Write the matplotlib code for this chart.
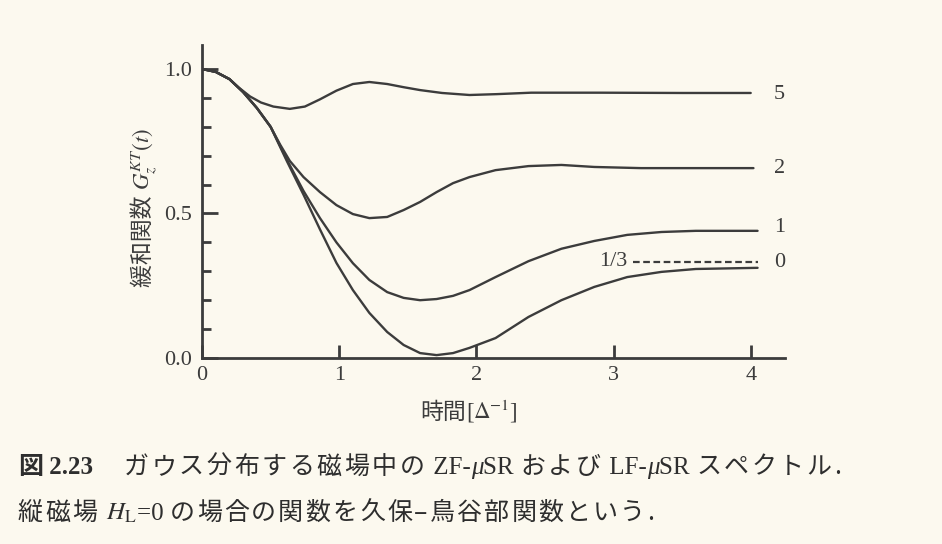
import matplotlib
matplotlib.use("Agg")
import matplotlib.pyplot as plt
from matplotlib.ticker import MultipleLocator, FixedLocator

# ---- data ----
t_5 = [0.0, 0.10, 0.20, 0.27, 0.35, 0.43, 0.52, 0.64, 0.75, 0.86, 0.98, 1.10, 1.22, 1.35, 1.47, 1.59, 1.75, 1.95, 2.15, 2.40, 2.90, 3.50, 4.00]
g_5 = [1.0, 0.99, 0.965, 0.935, 0.905, 0.884, 0.870, 0.862, 0.870, 0.895, 0.925, 0.948, 0.955, 0.948, 0.937, 0.927, 0.917, 0.91, 0.913, 0.918, 0.918, 0.917, 0.917]

t_2 = [0.0, 0.10, 0.20, 0.30, 0.40, 0.50, 0.57, 0.64, 0.74, 0.86, 0.98, 1.10, 1.22, 1.35, 1.47, 1.59, 1.71, 1.83, 1.95, 2.14, 2.38, 2.62, 2.86, 3.20, 4.02]
g_2 = [1.0, 0.99, 0.965, 0.92, 0.865, 0.80, 0.738, 0.682, 0.626, 0.574, 0.529, 0.498, 0.484, 0.488, 0.512, 0.54, 0.574, 0.605, 0.626, 0.65, 0.664, 0.668, 0.661, 0.657, 0.657]

t_1 = [0.0, 0.10, 0.20, 0.30, 0.40, 0.50, 0.62, 0.74, 0.86, 0.98, 1.10, 1.22, 1.35, 1.47, 1.59, 1.71, 1.83, 1.95, 2.14, 2.38, 2.62, 2.86, 3.10, 3.35, 3.60, 4.05]
g_1 = [1.0, 0.99, 0.965, 0.92, 0.865, 0.80, 0.685, 0.578, 0.484, 0.40, 0.328, 0.27, 0.228, 0.208, 0.20, 0.204, 0.215, 0.235, 0.28, 0.335, 0.378, 0.405, 0.426, 0.436, 0.44, 0.44]

t_0 = [0.0, 0.10, 0.20, 0.30, 0.40, 0.50, 0.62, 0.74, 0.86, 0.98, 1.10, 1.22, 1.35, 1.47, 1.59, 1.71, 1.83, 1.95, 2.14, 2.38, 2.62, 2.86, 3.10, 3.35, 3.60, 4.05]
g_0 = [1.0, 0.99, 0.965, 0.92, 0.865, 0.80, 0.68, 0.565, 0.445, 0.329, 0.235, 0.156, 0.09, 0.045, 0.017, 0.01, 0.017, 0.035, 0.069, 0.142, 0.20, 0.246, 0.28, 0.298, 0.308, 0.312]

t_dash = [3.14, 4.05]
g_dash = [1/3, 1/3]

curve_labels = ["5", "2", "1", "0"]
curve_label_y = [0.912, 0.657, 0.452, 0.329]

x_ticks = [0, 1, 2, 3, 4]
x_ticklabels = ["0", "1", "2", "3", "4"]
y_ticks = [0.0, 0.5, 1.0]
y_ticklabels = ["0.0", "0.5", "1.0"]

# ---- style ----
plt.rcParams['font.family'] = ['Liberation Serif', 'Noto Sans CJK JP', 'DejaVu Sans']
plt.rcParams['mathtext.fontset'] = 'stix'
ink = '#3c3c3c'
paper = '#fcf9ef'
W, H = 942, 544

CJK = dict(family=['Noto Sans CJK JP'])
CJK_WS = dict(family=['Noto Sans CJK JP', 'DejaVu Sans'])
SER = dict(family=['Liberation Serif'])
SERI = dict(family=['Liberation Serif'], style='italic')
MATH = dict(family=['Liberation Serif'])

fig = plt.figure(figsize=(W / 100, H / 100), dpi=100, facecolor=paper)
ax = fig.add_axes([202 / W, (H - 358) / H, (785 - 202) / W, (358 - 45) / H])
ax.set_facecolor(paper)

for t, g in [(t_5, g_5), (t_2, g_2), (t_1, g_1), (t_0, g_0)]:
    ax.plot(t, g, color=ink, lw=1.7, solid_capstyle='round', solid_joinstyle='round')
ax.plot(t_dash, g_dash, color=ink, lw=1.6, linestyle=(0, (3.0, 1.6)))

for lab, yy in zip(curve_labels, curve_label_y):
    ax.text(4.17, yy, lab, fontsize=16, color=ink, va='center', ha='left', **SER)
ax.text(3.10, 1 / 3, "1/3", fontsize=16, color=ink, va='center', ha='right', **SER)

ax.set_xlim(0, 4.25)
ax.set_ylim(0, 1.083)
for s in ['top', 'right']:
    ax.spines[s].set_visible(False)
for s in ['left', 'bottom']:
    ax.spines[s].set_linewidth(2.0)
    ax.spines[s].set_color(ink)

ax.xaxis.set_major_locator(FixedLocator(x_ticks))
ax.set_xticklabels(x_ticklabels)
ax.yaxis.set_major_locator(FixedLocator(y_ticks))
ax.set_yticklabels(y_ticklabels)
ax.yaxis.set_minor_locator(MultipleLocator(0.1))
ax.tick_params(axis='x', which='major', direction='in', length=9.4, width=2, colors=ink,
               labelsize=16, pad=6)
ax.tick_params(axis='y', which='major', direction='in', length=11.5, width=2, colors=ink,
               labelsize=16, pad=7)
ax.tick_params(axis='y', which='minor', direction='in', length=6.5, width=2, colors=ink)
for lab in ax.get_xticklabels() + ax.get_yticklabels():
    lab.set_family('Liberation Serif')

renderer = fig.canvas.get_renderer()


def seq_text(x_px, y_px, segs, size, color, vertical=False, track=0.0):
    """Place text segments one after another along a shared baseline.
    CJK segments get a little extra letter spacing (track, in px)."""
    pos = y_px if vertical else x_px
    for s, kw in segs:
        pieces = list(s) if (track and kw is CJK) else [s]
        for p in pieces:
            if vertical:
                t = fig.text(x_px / W, 1 - pos / H, p, fontsize=size, color=color,
                             rotation=90, rotation_mode='anchor', ha='left', va='baseline', **kw)
                adv = t.get_window_extent(renderer=renderer).height
                pos -= adv + (track if len(pieces) > 1 else 0)
            else:
                t = fig.text(pos / W, 1 - y_px / H, p, fontsize=size, color=color,
                             ha='left', va='baseline', **kw)
                adv = t.get_window_extent(renderer=renderer).width
                pos += adv + (track if len(pieces) > 1 else 0)


# y label (rotated)
seq_text(150, 287, [("緩和関数 ", CJK), (r"$G_z^{KT}(t)$", MATH)], 16.5, ink, vertical=True)
# x label
seq_text(420, 419, [("時間", CJK), ("[", SER), (r"$\mathit{\Delta}^{-1}$", MATH), ("]", SER)], 16.5, ink)

# caption
cap = '#2e2e2e'
seq_text(18, 474, [("図", dict(family=['Noto Sans CJK JP'], weight='bold')),
                   (" 2.23", dict(family=['Liberation Serif'], weight='bold')),
                   ("　 ", CJK_WS),
                   ("ガウス分布する磁場中の", CJK), (" ZF-", SER), ("μ", SERI), ("SR ", SER),
                   ("および", CJK), (" LF-", SER), ("μ", SERI), ("SR ", SER),
                   ("スペクトル.", CJK)], 18, cap, track=2.6)
seq_text(18, 520, [("縦磁場", CJK), (" ", SER), (r"$H_{\mathrm{L}}$", MATH), ("=0 ", SER),
                   ("の場合の関数を久保–鳥谷部関数という.", CJK)], 18, cap, track=2.2)

fig.savefig('out.png', dpi=100, facecolor=paper)
